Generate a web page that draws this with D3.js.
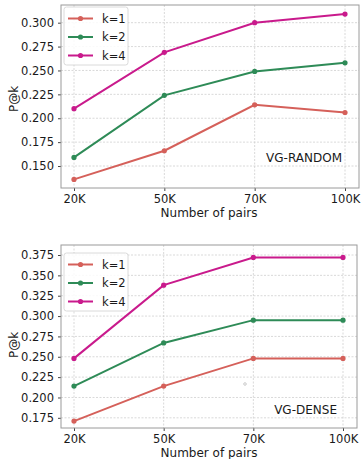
<!DOCTYPE html>
<html>
<head>
<meta charset="utf-8">
<script src="https://cdn.jsdelivr.net/npm/d3@7"></script>
<style>
  body { margin: 0; background: #fff; }
  svg { display: block; }
  text { font-family: "DejaVu Sans", sans-serif; fill: #1a1a1a; }
</style>
</head>
<body>
<div id="vis"></div>
<script>
// data
var pairs = ['20K', '50K', '70K', '100K']
var series = ['k=1', 'k=2', 'k=4']
var colors = ['#d5605a', '#2e8b57', '#c91a8c']

var randomK1 = [0.136, 0.166, 0.214, 0.206]
var randomK2 = [0.159, 0.224, 0.249, 0.258]
var randomK4 = [0.210, 0.269, 0.300, 0.309]
var randomTicks = [0.150, 0.175, 0.200, 0.225, 0.250, 0.275, 0.300]

var denseK1 = [0.171, 0.214, 0.248, 0.248]
var denseK2 = [0.214, 0.267, 0.295, 0.295]
var denseK4 = [0.248, 0.338, 0.372, 0.372]
var denseTicks = [0.175, 0.200, 0.225, 0.250, 0.275, 0.300, 0.325, 0.350, 0.375]

var width = 361, height = 459

var svg = d3.select('#vis').append('svg')
  .attr('width', width)
  .attr('height', height)

function drawPanel(opt) {
  var g = svg.append('g')
  var left = 61, right = opt.right, top = opt.top, bottom = opt.bottom

  var x = d3.scalePoint()
    .domain(pairs)
    .range([74, opt.lastX])
  var y = d3.scaleLinear()
    .domain(opt.yDomain)
    .range([bottom, top])

  // grid
  g.selectAll('.gy').data(opt.ticks).enter().append('line')
    .attr('x1', left).attr('x2', right)
    .attr('y1', d => y(d)).attr('y2', d => y(d))
    .attr('stroke', '#c8c8c8').attr('stroke-width', 0.7)
    .attr('stroke-dasharray', '2,1.5')
  g.selectAll('.gx').data(pairs).enter().append('line')
    .attr('y1', top).attr('y2', bottom)
    .attr('x1', d => x(d)).attr('x2', d => x(d))
    .attr('stroke', '#c8c8c8').attr('stroke-width', 0.7)
    .attr('stroke-dasharray', '2,1.5')

  // axes
  var yAxis = d3.axisLeft(y).tickValues(opt.ticks).tickFormat(d3.format('.3f')).tickSize(3).tickPadding(4)
  var xAxis = d3.axisBottom(x).tickSize(3).tickPadding(3.5)
  var ya = g.append('g').attr('transform', 'translate(' + left + ',0)').call(yAxis)
  var xa = g.append('g').attr('transform', 'translate(0,' + bottom + ')').call(xAxis)
  ;[ya, xa].forEach(a => {
    a.select('.domain').remove()
    a.selectAll('line').attr('stroke', '#444')
    a.selectAll('text').style('font-size', '11.5px').attr('fill', '#1a1a1a')
  })

  // frame
  g.append('rect')
    .attr('x', left).attr('y', top)
    .attr('width', right - left).attr('height', bottom - top)
    .attr('fill', 'none').attr('stroke', '#9a9a9a').attr('stroke-width', 1)

  // lines
  var line = d3.line().x((d, i) => x(pairs[i])).y(d => y(d))
  opt.data.forEach((vals, k) => {
    g.append('path')
      .attr('d', line(vals))
      .attr('fill', 'none')
      .attr('stroke', colors[k])
      .attr('stroke-width', 2)
    g.selectAll('.pt' + k).data(vals).enter().append('circle')
      .attr('cx', (d, i) => x(pairs[i]))
      .attr('cy', d => y(d))
      .attr('r', 2.6)
      .attr('fill', colors[k])
  })

  // legend
  var lg = g.append('g').attr('transform', 'translate(64,' + opt.legendTop + ')')
  lg.append('rect')
    .attr('width', 64).attr('height', 58).attr('rx', 2.5)
    .attr('fill', 'rgba(255,255,255,0.85)').attr('stroke', '#d0d0d0').attr('stroke-width', 0.8)
  series.forEach((s, k) => {
    var yy = 11.5 + k * 18.5
    lg.append('line').attr('x1', 4).attr('x2', 29).attr('y1', yy).attr('y2', yy)
      .attr('stroke', colors[k]).attr('stroke-width', 2)
    lg.append('circle').attr('cx', 16.5).attr('cy', yy).attr('r', 2.6).attr('fill', colors[k])
    lg.append('text').attr('x', 38).attr('y', yy).attr('dy', '0.36em')
      .style('font-size', '11.5px').text(s)
  })

  // labels
  g.append('text')
    .attr('transform', 'translate(18,' + opt.yLabelY + ') rotate(-90)')
    .attr('text-anchor', 'middle')
    .style('font-size', '12px')
    .text('P@k')
  g.append('text')
    .attr('x', 209).attr('y', bottom + 28.5)
    .attr('text-anchor', 'middle')
    .style('font-size', '12px')
    .text('Number of pairs')
  g.append('text')
    .attr('x', opt.tagX).attr('y', opt.tagY).attr('dy', '0.36em')
    .attr('text-anchor', 'end')
    .style('font-size', '12px')
    .text(opt.tag)
  return g
}

drawPanel({
  top: 5, bottom: 188, right: 359, lastX: 345,
  yDomain: [0.127, 0.3185], ticks: randomTicks,
  data: [randomK1, randomK2, randomK4],
  legendTop: 7, yLabelY: 99, tag: 'VG-RANDOM', tagX: 342, tagY: 158
})

var dense = drawPanel({
  top: 245, bottom: 428, right: 357, lastX: 343,
  yDomain: [0.1625, 0.3873], ticks: denseTicks,
  data: [denseK1, denseK2, denseK4],
  legendTop: 253, yLabelY: 345, tag: 'VG-DENSE', tagX: 337, tagY: 410
})

// small stray circle visible in the lower panel
dense.append('circle').attr('cx', 245).attr('cy', 384).attr('r', 1.3)
  .attr('fill', 'none').attr('stroke', '#aaa').attr('stroke-width', 0.6)
</script>
</body>
</html>
